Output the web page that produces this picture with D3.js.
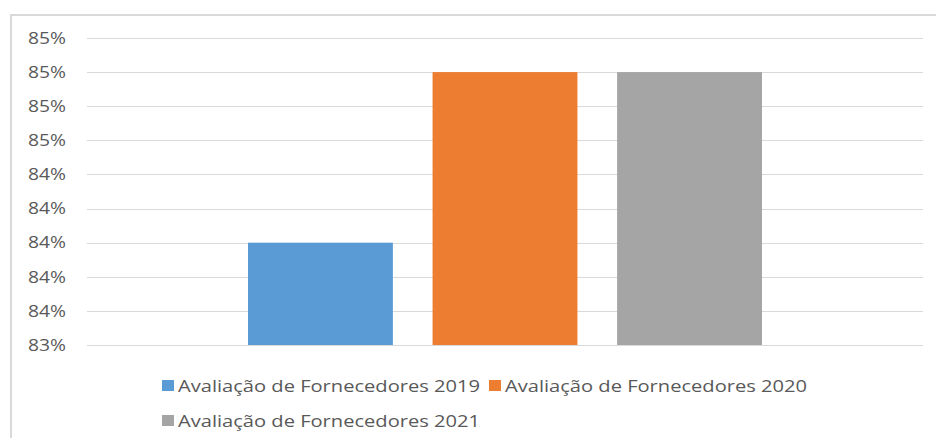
<!DOCTYPE html>
<html>
<head>
<meta charset="utf-8">
<script src="https://cdn.jsdelivr.net/npm/d3@7"></script>
<style>
  body { margin: 0; background: #fff; }
  text { font-family: "Open Sans", "DejaVu Sans", sans-serif; fill: #595959; }
</style>
</head>
<body>
<script>
// Chart data
const series = ["Avaliação de Fornecedores 2019", "Avaliação de Fornecedores 2020", "Avaliação de Fornecedores 2021"];
const values = [84.0, 85.0, 85.0];
const colors = ["#5b9bd5", "#ed7d31", "#a5a5a5"];
const yTicks = [83.4, 83.6, 83.8, 84.0, 84.2, 84.4, 84.6, 84.8, 85.0, 85.2];

const width = 936, height = 438;
const svg = d3.select("body").append("svg")
    .attr("width", width)
    .attr("height", height);

// chart frame (left + top edges visible)
svg.append("path")
    .attr("d", `M11,${height} L11,15 L${width},15`)
    .attr("fill", "none")
    .attr("stroke", "#d9d9d9")
    .attr("stroke-width", 2);

const plot = { left: 87, right: 923, top: 38, bottom: 345 };

const y = d3.scaleLinear()
    .domain([83.4, 85.2])
    .range([plot.bottom, plot.top]);

// single category group, bars inside
const pw = plot.right - plot.left;
const x = d3.scaleBand()
    .domain(series)
    .range([plot.left + pw * 0.1926, plot.right - pw * 0.1926])
    .paddingInner(0.215);

// gridlines
svg.append("g").selectAll("line")
    .data(yTicks)
    .enter().append("line")
    .attr("x1", plot.left)
    .attr("x2", plot.right)
    .attr("y1", d => Math.round(y(d)) + 0.5)
    .attr("y2", d => Math.round(y(d)) + 0.5)
    .attr("stroke", "#d9d9d9")
    .attr("stroke-width", 1);

// y labels
svg.append("g").selectAll("text")
    .data(yTicks)
    .enter().append("text")
    .attr("x", 66)
    .attr("y", d => y(d))
    .attr("dy", "0.36em")
    .attr("text-anchor", "end")
    .style("font-size", "16px")
    .attr("textLength", 38)
    .attr("lengthAdjust", "spacingAndGlyphs")
    .text(d => Math.round(d) + "%");

// bars
svg.append("g").selectAll("rect")
    .data(series)
    .enter().append("rect")
    .attr("x", d => x(d))
    .attr("width", x.bandwidth())
    .attr("y", (d, i) => y(values[i]))
    .attr("height", (d, i) => y(yTicks[0]) - y(values[i]))
    .attr("fill", (d, i) => colors[i]);

// legend
const legendPos = [[162, 386], [489, 386], [162, 421]];
const lg = svg.append("g").selectAll("g")
    .data(series)
    .enter().append("g")
    .attr("transform", (d, i) => `translate(${legendPos[i][0]},${legendPos[i][1]})`);

lg.append("rect")
    .attr("x", 0)
    .attr("y", -6)
    .attr("width", 12)
    .attr("height", 11)
    .attr("fill", (d, i) => colors[i]);

lg.append("text")
    .attr("x", 16)
    .attr("y", 0)
    .attr("dy", "0.36em")
    .style("font-size", "17px")
    .attr("textLength", 302)
    .attr("lengthAdjust", "spacingAndGlyphs")
    .text(d => d);
</script>
</body>
</html>
